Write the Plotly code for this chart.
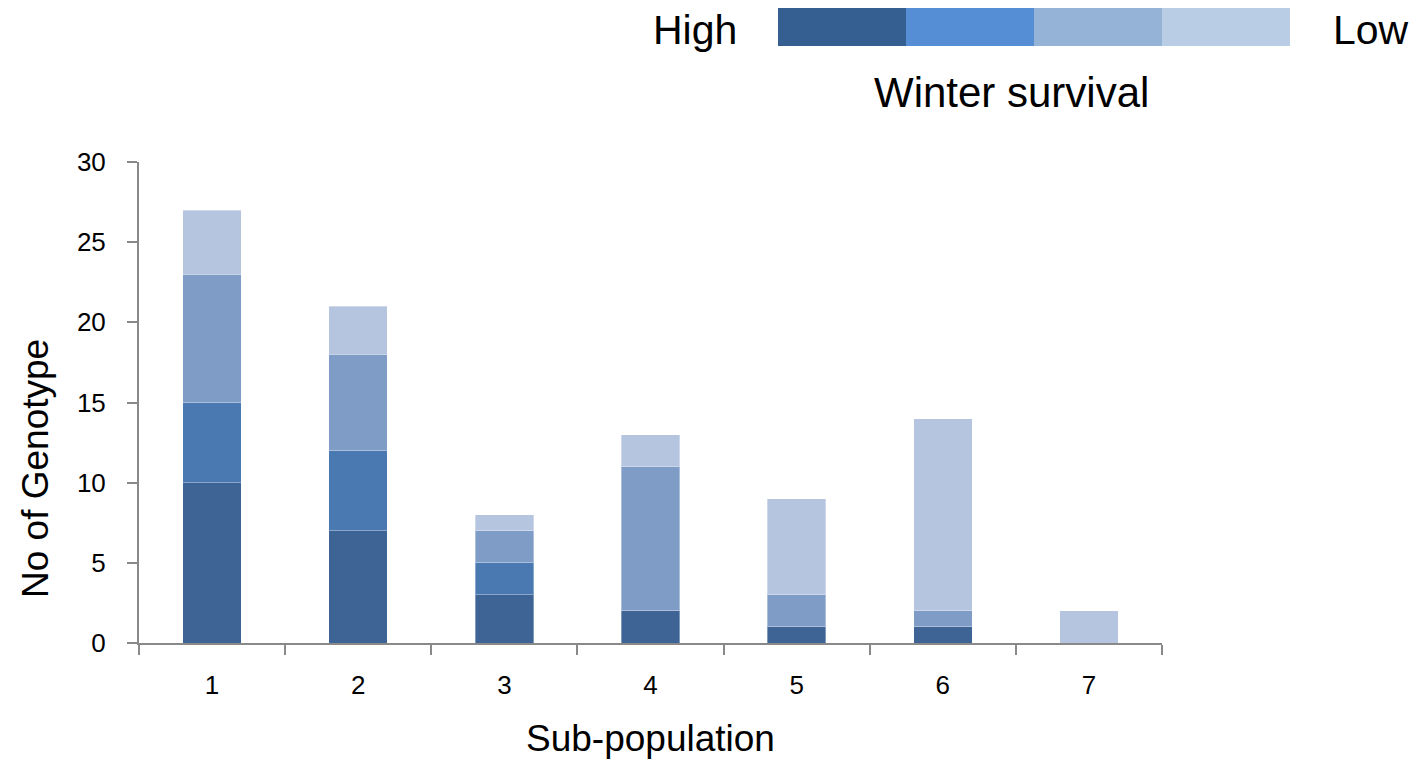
import plotly.graph_objects as go

categories = ["1", "2", "3", "4", "5", "6", "7"]
high = [10, 7, 3, 2, 1, 1, 0]
mid_high = [5, 5, 2, 0, 0, 0, 0]
mid_low = [8, 6, 2, 9, 2, 1, 0]
low = [4, 3, 1, 2, 6, 12, 2]
series_names = ["High", "Mid-high", "Mid-low", "Low"]
bar_colors = ["#3D6495", "#4A78B0", "#7F9CC7", "#B5C4DF"]
legend_colors = ["#365F91", "#558ED5", "#95B3D7", "#B9CDE5"]

FONT = "Liberation Sans"

fig = go.Figure()
for name, vals, col in zip(series_names, [high, mid_high, mid_low, low], bar_colors):
    fig.add_trace(go.Bar(x=categories, y=vals, name=name,
                         marker=dict(color=col, line=dict(color="rgba(255,255,255,0.35)", width=1)),
                         width=0.4, showlegend=False))

OFF = 8  # page offset of the figure
W, H = 1422, 762
# target plot area in screenshot pixels
PL, PR, PT, PB = 139, 1162, 162, 643
L = PL - OFF
T = PT - OFF
pw, ph = PR - PL, PB - PT
R = W - L - pw
B = H - T - ph

def px(x):
    return (x - PL) / pw

def py(y):
    return (PB - y) / ph

shapes = []
x0 = 778
seg = 128
for i, c in enumerate(legend_colors):
    shapes.append(dict(type="rect", xref="paper", yref="paper", x0=px(x0 + i * seg), x1=px(x0 + (i + 1) * seg),
                       y0=py(46), y1=py(6), fillcolor=c, line=dict(width=0)))

annotations = [
    dict(text="High", xref="paper", yref="paper", x=px(739), y=py(30), xanchor="right", yanchor="middle",
         showarrow=False, font=dict(family=FONT, size=41, color="black")),
    dict(text="Low", xref="paper", yref="paper", x=px(1331), y=py(30), xanchor="left", yanchor="middle",
         showarrow=False, font=dict(family=FONT, size=41, color="black")),
    dict(text="Winter survival", xref="paper", yref="paper", x=px(1011), y=py(92), xanchor="center", yanchor="middle",
         showarrow=False, font=dict(family=FONT, size=42, color="black")),
    dict(text="No of Genotype", xref="paper", yref="paper", x=px(35), y=py(469), xanchor="center", yanchor="middle",
         textangle=-90, showarrow=False, font=dict(family=FONT, size=37, color="black")),
    dict(text="Sub-population", xref="paper", yref="paper", x=px(650), y=py(738), xanchor="center", yanchor="middle",
         showarrow=False, font=dict(family=FONT, size=37, color="black")),
]

fig.update_layout(
    barmode="stack",
    width=W, height=H,
    margin=dict(l=L, r=R, t=T, b=B, autoexpand=False),
    plot_bgcolor="white", paper_bgcolor="white",
    font=dict(family=FONT, size=26, color="black"),
    shapes=shapes, annotations=annotations,
    xaxis=dict(type="category", tickson="boundaries", ticks="outside", ticklen=10, tickwidth=1.5, tickcolor="#898989",
               showline=True, linecolor="#898989", linewidth=2, showgrid=False, tickfont=dict(size=26),
               ticklabelstandoff=18, range=[-0.5, 6.5]),
    yaxis=dict(range=[0, 30], dtick=5, ticks="outside", ticklen=10, tickwidth=1.5, tickcolor="#898989",
               showline=True, linecolor="#898989", linewidth=2, showgrid=False, zeroline=False,
               tickfont=dict(size=26), ticklabelstandoff=16),
)

fig.write_html("out.html")
